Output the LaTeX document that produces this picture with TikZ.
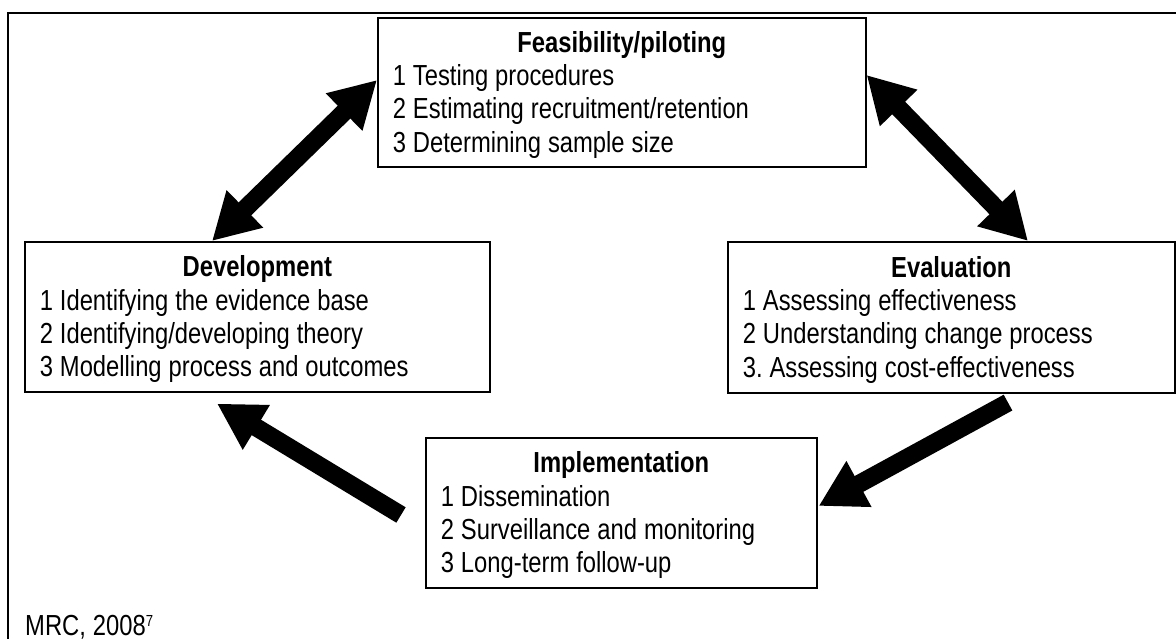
\documentclass[tikz,border=0pt]{standalone}
\usepackage{fontspec}
\setmainfont{Liberation Sans}[FakeStretch=0.82,WordSpace=1.05]
\usetikzlibrary{arrows.meta,calc}
\newcommand\boxfont{\fontsize{29}{33.4}\selectfont\frenchspacing}
\newcommand\titleline[1]{\rule{0pt}{26pt}\makebox[\linewidth]{\bfseries #1}}
\tikzset{
  stagebox/.style={draw, line width=1.6pt, rectangle, anchor=north west,
    inner xsep=15pt, inner ysep=0pt, align=flush left, font=\boxfont},
  bigarrow/.style={line width=18pt, -{Triangle[length=46pt,width=49pt]}},
  bigdarrow/.style={line width=18pt, {Triangle[length=46pt,width=49pt]}-{Triangle[length=46pt,width=49pt]}},
  frameline/.style={line width=2pt}
}
\begin{document}
\begin{tikzpicture}[x=1pt,y=-1pt]
\useasboundingbox (0,0) rectangle (1176,639);
\draw[frameline] (8,650) -- (8,13) -- (1185,13);

\node[stagebox, minimum width=488pt, minimum height=149pt, text width=458pt] (feas) at (377,17)
  {\titleline{Feasibility/piloting}\\
   1 Testing procedures\\
   2 Estimating recruitment/retention\\
   3 Determining sample size};

\node[stagebox, minimum width=465pt, minimum height=150pt, text width=435pt] (dev) at (24,241)
  {\titleline{Development}\\
   1 Identifying the evidence base\\
   2 Identifying/developing theory\\
   3 Modelling process and outcomes};

\node[stagebox, minimum width=447pt, minimum height=151pt, text width=417pt] (eval) at (727,241)
  {\titleline{Evaluation}\\
   1 Assessing effectiveness\\
   2 Understanding change process\\
   3. Assessing cost-effectiveness};

\node[stagebox, minimum width=391pt, minimum height=150pt, text width=361pt] (impl) at (425,437)
  {\titleline{Implementation}\\
   1 Dissemination\\
   2 Surveillance and monitoring\\
   3 Long-term follow-up};

\node[anchor=base west, font=\boxfont, inner sep=0pt] (src) at (25,635)
  {MRC, 2008\raisebox{9pt}{\fontsize{16}{16}\selectfont 7}};

\draw[bigdarrow] ($(feas.north west)+(0,63)$) -- ($(dev.north west)+(188,0)$);
\draw[bigdarrow] ($(feas.north east)+(0,58)$) -- ($(eval.north west)+(301,0)$);
\coordinate (evaltail) at ($(eval.south west)+(281,9)$);
\draw[bigarrow] (evaltail) -- ($(impl.north east)+(1,69)$);
\coordinate (impltail) at ($(impl.north west)+(-24,78)$);
\draw[bigarrow] (impltail) -- ($(dev.south west)+(193,11)$);
\end{tikzpicture}
\end{document}
